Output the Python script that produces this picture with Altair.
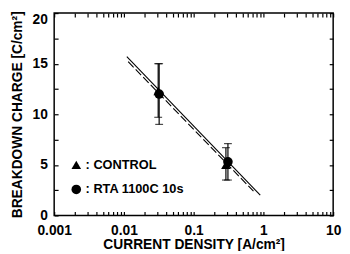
import altair as alt
import pandas as pd

# ---- data ----
series = ["CONTROL", "RTA 1100C 10s"]
ctrl_x = [0.031, 0.29]
ctrl_y = [12.3, 5.0]
ctrl_lo = [9.7, 3.5]
ctrl_hi = [15.0, 6.7]
rta_x = [0.032, 0.31]
rta_y = [12.0, 5.3]
rta_lo = [9.0, 3.5]
rta_hi = [15.0, 7.1]

solid_x = [0.011, 0.9]
solid_y = [15.7, 2.0]
dash_x = [0.0115, 0.72]
dash_y = [15.2, 2.4]

x_major = [0.001, 0.01, 0.1, 1, 10]
x_minor = [0.001, 0.002, 0.003, 0.004, 0.005, 0.006, 0.007, 0.008, 0.009,
           0.01, 0.02, 0.03, 0.04, 0.05, 0.06, 0.07, 0.08, 0.09,
           0.1, 0.2, 0.3, 0.4, 0.5, 0.6, 0.7, 0.8, 0.9,
           1, 2, 3, 4, 5, 6, 7, 8, 9, 10]
y_major = [0, 5, 10, 15, 20]
y_minor = [0, 2.5, 5, 7.5, 10, 12.5, 15, 17.5, 20]

pts = pd.DataFrame({
    "x": ctrl_x + rta_x,
    "y": ctrl_y + rta_y,
    "lo": ctrl_lo + rta_lo,
    "hi": ctrl_hi + rta_hi,
    "s": [series[0]] * len(ctrl_x) + [series[1]] * len(rta_x),
})
lines = pd.DataFrame({
    "x": solid_x + dash_x,
    "y": solid_y + dash_y,
    "k": ["solid"] * 2 + ["dash"] * 2,
})

FONT = "Liberation Sans"
xs = alt.Scale(type="log", domain=[0.001, 10], nice=False)
ys = alt.Scale(domain=[0, 20], nice=False)

main = alt.Chart(pts).mark_point(filled=True, opacity=1, size=95).encode(
    x=alt.X("x:Q", scale=xs, title="CURRENT DENSITY [A/cm²]",
            axis=alt.Axis(values=x_major, format="~g", tickSize=0, domain=False, grid=False,
                          labelFontSize=14, labelFontWeight="bold", labelFont=FONT,
                          labelPadding=8, titleFont=FONT, titleFontSize=14,
                          titleFontWeight="bold", titlePadding=1, labelFlush=False,
                          labelColor="black", titleColor="black")),
    y=alt.Y("y:Q", scale=ys, title="BREAKDOWN CHARGE [C/cm²]",
            axis=alt.Axis(values=y_major, tickSize=0, domain=False, grid=False,
                          labelFontSize=14, labelFontWeight="bold", labelFont=FONT,
                          labelPadding=7, titleFont=FONT, titleFontSize=14,
                          titleFontWeight="bold", titlePadding=8, labelFlush=False,
                          labelBaseline={"condition": {"test": "datum.value == 20", "value": "top"},
                                         "value": "middle"},
                          labelColor="black", titleColor="black")),
    shape=alt.Shape("s:N", scale=alt.Scale(domain=series, range=["triangle-up", "circle"]),
                    legend=alt.Legend(orient="none", legendX=16, legendY=148, title=None,
                                      labelExpr="': ' + datum.label", labelFont=FONT,
                                      labelFontSize=13, labelFontWeight="bold",
                                      labelColor="black", symbolFillColor="black",
                                      symbolStrokeColor="black", symbolSize=95,
                                      rowPadding=9, labelOffset=3, padding=0)),
    color=alt.value("black"),
)

def tickax(orient, vals):
    return alt.Axis(orient=orient, values=vals, labels=False, domain=False, grid=False,
                    tickSize=4, tickWidth=1.2, tickColor="black", offset=-4, title=None)

ticks_a = alt.Chart(pts).mark_point(opacity=0).encode(
    x=alt.X("x:Q", scale=xs, axis=tickax("bottom", x_minor)),
    y=alt.Y("y:Q", scale=ys, axis=tickax("left", y_minor)),
)
ticks_b = alt.Chart(pts).mark_point(opacity=0).encode(
    x=alt.X("x:Q", scale=xs, axis=tickax("top", x_minor)),
    y=alt.Y("y:Q", scale=ys, axis=tickax("right", y_minor)),
)

err = alt.Chart(pts).mark_rule(color="black", strokeWidth=1.2).encode(
    x=alt.X("x:Q", scale=xs, axis=None),
    y=alt.Y("lo:Q", scale=ys, axis=None),
    y2="hi:Q",
)
cap_lo = alt.Chart(pts).mark_tick(orient="horizontal", color="black", size=8, thickness=1.2).encode(
    x=alt.X("x:Q", scale=xs, axis=None),
    y=alt.Y("lo:Q", scale=ys, axis=None),
)
cap_hi = alt.Chart(pts).mark_tick(orient="horizontal", color="black", size=8, thickness=1.2).encode(
    x=alt.X("x:Q", scale=xs, axis=None),
    y=alt.Y("hi:Q", scale=ys, axis=None),
)

solid = alt.Chart(lines[lines.k == "solid"]).mark_line(color="black", strokeWidth=1.1).encode(
    x=alt.X("x:Q", scale=xs, axis=None),
    y=alt.Y("y:Q", scale=ys, axis=None),
)
dash = alt.Chart(lines[lines.k == "dash"]).mark_line(color="black", strokeWidth=1.1,
                                                     strokeDash=[8, 3]).encode(
    x=alt.X("x:Q", scale=xs, axis=None),
    y=alt.Y("y:Q", scale=ys, axis=None),
)

chart = alt.layer(ticks_a, ticks_b, solid, dash, err, cap_lo, cap_hi, main).resolve_axis(
    x="independent", y="independent"
).properties(
    width=284, height=206,
    autosize=alt.AutoSizeParams(type="none"),
    padding={"left": 47, "top": 3, "right": 9, "bottom": 34},
    background="white",
).configure_view(stroke="black", strokeWidth=1.5)

chart.save("out.html", embed_options={"renderer": "svg", "actions": False})
